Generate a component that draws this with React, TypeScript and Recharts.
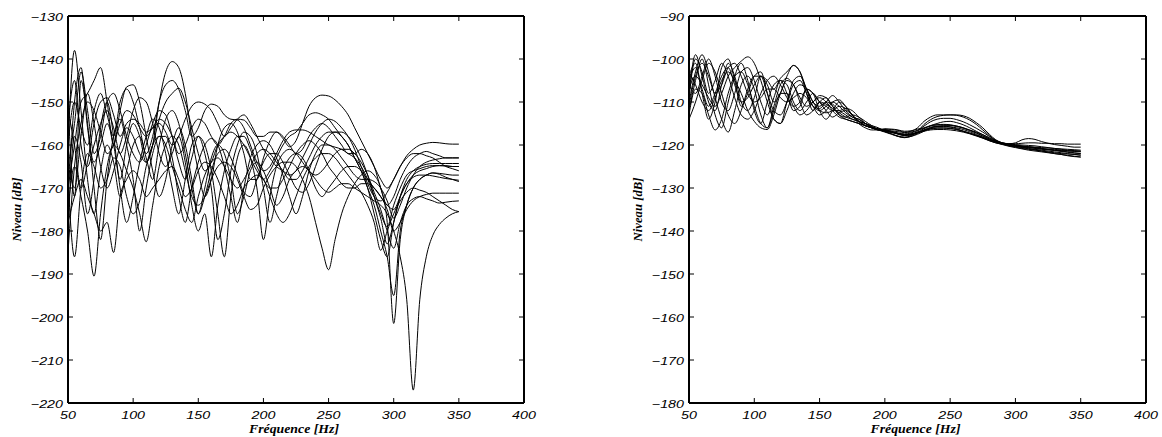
import React from 'react';
import { LineChart, Line, XAxis, YAxis } from 'recharts';

// Frequency grid (Hz)
const FREQ = [
  50, 55, 60, 65, 70, 75, 80, 85, 90, 95,
  100, 105, 110, 115, 120, 125, 130, 135, 140, 145,
  150, 155, 160, 165, 170, 175, 180, 185, 190, 195,
  200, 205, 210, 215, 220, 225, 230, 235, 240, 245,
  250, 255, 260, 265, 270, 275, 280, 285, 290, 295,
  300, 305, 310, 315, 320, 325, 330, 335, 340, 345,
  350,
];

const X_TICKS = [50, 100, 150, 200, 250, 300, 350, 400];
const LEFT_Y_TICKS = [-220, -210, -200, -190, -180, -170, -160, -150, -140, -130];
const RIGHT_Y_TICKS = [-180, -170, -160, -150, -140, -130, -120, -110, -100, -90];

// Left panel levels (dB)
const L1 = [-160, -138, -152, -168, -176, -166, -160, -164, -172, -166,
  -160, -158, -163, -168, -160, -154, -152, -155, -162, -170,
  -176, -170, -163, -160, -162, -168, -176, -172, -166, -164,
  -166, -170, -174, -172, -168, -166, -165, -166, -168, -170,
  -171, -170, -169, -169, -170, -171, -172, -173, -174, -176,
  -180, -186, -196, -217, -196, -186, -181, -178.5, -177, -176,
  -175.5];
const L2 = [-172, -150, -142, -156, -164, -160, -155, -160, -168, -160,
  -155, -158, -164, -160, -150, -143, -140.6, -142, -148, -158,
  -166, -172, -168, -160, -156, -155, -157, -162, -168, -168,
  -163, -159, -157, -158.5, -160.4, -159, -155, -151, -149, -148.4,
  -148.6, -149.5, -151, -153, -156, -159, -162, -165, -168, -170,
  -168, -165, -163, -162, -162, -162.5, -163, -164, -165, -165.5,
  -166];
const L3 = [-152, -160, -170, -164, -155, -150, -149, -153, -158, -155,
  -154, -155, -157, -156, -155, -157, -160, -158, -154, -151,
  -150, -150.5, -152, -155, -158, -156, -154, -153, -155, -158,
  -161, -163, -165, -166, -167, -166, -163, -160, -157, -155,
  -154, -154.5, -156, -158, -161, -165, -169, -172, -173, -171,
  -168, -165, -162.5, -161, -160, -159.6, -159.4, -159.5, -159.7, -159.8,
  -159.8];
const L4 = [-170, -160, -150, -148, -145, -142, -150, -160, -152, -146.5,
  -146, -150, -158, -166, -172, -168, -160, -156, -160, -168,
  -176, -172, -166, -162, -161, -163, -167, -171, -172, -168,
  -164, -162, -162, -164, -167, -170, -171, -169, -165, -161,
  -158, -157, -157, -158, -160, -163, -167, -172, -177, -183,
  -178, -172, -168, -166, -165, -164.5, -164.3, -164.3, -164.3, -164.3,
  -164.3];
const L5 = [-175, -165, -172, -180, -190.5, -176, -165, -160, -162, -166,
  -170, -176, -182.5, -174, -165, -160, -158, -160, -166, -172,
  -174, -172, -168, -165, -164, -165, -168, -172, -175, -174,
  -170, -167, -165, -164, -164, -165, -168, -172, -178, -184,
  -189, -182, -176, -172, -169, -167, -166, -167, -170, -178,
  -201.5, -182, -174, -170, -168, -167, -166.5, -166.6, -166.8, -167,
  -167];
const L6 = [-155, -145, -160, -165, -160, -155, -152, -156, -162, -158,
  -152, -149, -150, -155, -162, -165, -162, -158, -164, -174,
  -180, -176, -186, -174, -166, -161, -158, -158, -161, -165,
  -168, -170, -170, -168, -165, -162, -160, -159, -160, -162,
  -165, -167, -169, -170, -170, -169, -169, -170, -172, -175,
  -180, -178, -175, -173, -172, -171.5, -171.2, -171.2, -171.2, -171.2,
  -171.2];
const L7 = [-165, -155, -143, -152, -162, -158, -150, -148, -152, -158,
  -162, -164, -160, -155, -152, -153, -158, -164, -168, -163,
  -158, -160, -166, -176, -186, -172, -163, -160, -163, -170,
  -182, -172, -165, -162, -161, -162, -164, -166, -167, -166,
  -164, -162, -161, -161, -162, -164, -167, -171, -175, -180,
  -184, -178, -174, -172.5, -172, -172.5, -173, -173.5, -173.3, -173.1,
  -173];
const L8 = [-185, -165, -155, -150, -152, -157, -162, -160, -155, -152,
  -153, -156, -158, -156, -154, -155, -158, -162, -160, -156,
  -154, -155, -158, -160, -158, -155, -154, -154.2, -156, -158,
  -158, -157, -157, -158, -160, -162, -161, -158, -156, -155,
  -156, -158, -160, -162, -162, -161, -162, -165, -170, -174,
  -172, -168, -165, -163, -162, -161.5, -162, -162.5, -163, -163,
  -163];
const L9 = [-178, -172, -168, -172, -176, -180, -178, -185, -172, -168,
  -166, -168, -172, -170, -168, -166, -165, -168, -172, -170,
  -166, -164, -165, -168, -172, -176, -174, -170, -168, -167,
  -168, -172, -176, -178, -176, -172, -168, -165, -163, -162,
  -162, -163, -165, -167, -169, -171, -174, -178, -184.5, -180,
  -176, -173, -171, -170, -170.5, -171, -172, -173, -174, -175,
  -175.5];
const L10 = [-160, -150, -156, -160, -152, -148, -153, -158, -150, -147,
  -150, -156, -162, -158, -150, -146, -145, -147, -152, -158,
  -156, -152, -150.5, -151, -153, -154, -154.2, -156, -160, -164,
  -166, -165, -162, -159, -157, -156.5, -156.5, -157, -158, -159,
  -160, -160.5, -161, -162, -163, -165, -168, -172, -176, -179,
  -174, -170, -167, -166, -165.5, -165, -164.8, -164.8, -164.9, -165,
  -165];
const L11 = [-168, -186, -170, -162, -165, -170, -168, -163, -165, -172,
  -176, -173, -165, -160, -158, -160, -165, -170, -175, -178,
  -172, -167, -164, -163, -165, -168, -170, -168, -165, -162,
  -161, -162, -164, -166, -168, -168, -166, -163, -160, -158,
  -157, -157, -158, -160, -163, -166, -170, -174, -180, -186,
  -195, -180, -174, -170, -168, -167, -166.5, -166.8, -167.5, -168,
  -168.5];
const L12 = [-162, -170, -158, -148, -155, -165, -170, -166, -160, -156,
  -158, -162, -164, -160, -154, -150, -148, -146.8, -150, -156,
  -162, -166, -164, -160, -158, -157, -158, -160, -163, -166,
  -168, -166, -163, -160, -158, -157, -155, -153, -152.5, -153,
  -154, -156, -158, -160, -163, -166, -170, -176, -182, -186,
  -178, -172, -169, -167, -166, -165.5, -165, -164.8, -164.8, -165,
  -165];
const L13 = [-180, -158, -164, -176, -168, -156, -150, -158, -170, -178,
  -172, -164, -158, -154, -156, -162, -170, -176, -168, -160,
  -158, -162, -170, -182, -176, -166, -160, -157, -158, -162,
  -170, -178, -172, -166, -163, -162, -163, -166, -170, -172,
  -170, -168, -166, -165, -165, -166, -168, -170, -172, -174,
  -175, -172, -169, -167.5, -167, -167, -167.2, -167.5, -167.8, -168,
  -168.2];
const L14 = [-150, -172, -145, -155, -170, -182, -168, -158, -154, -160,
  -168, -180, -170, -162, -158, -158, -163, -172, -178, -170,
  -164, -160, -158.5, -160, -165, -172, -178, -170, -163, -160,
  -159, -160, -163, -167, -172, -176, -172, -166, -162, -160,
  -160, -161, -163, -165, -167, -168, -168, -168.5, -170, -173,
  -177, -174, -170, -167, -165, -164, -163.5, -163.2, -163, -163,
  -163];

// Right panel levels (dB)
const R1 = [-108, -99, -104, -110, -112, -106, -101, -104, -110, -112,
  -109, -104, -106, -110, -108, -104, -101.5, -103, -108, -112,
  -110, -109, -111, -113, -114, -114.5, -115, -115.5, -116, -116.5,
  -116.2, -116.4, -116.6, -117, -116.8, -116, -114.5, -113.5, -113, -113,
  -113, -113, -113.2, -113.8, -114.8, -116, -117.5, -118.8, -119.5, -119.7,
  -119.5, -118.8, -118.5, -118.7, -119.2, -119.6, -119.9, -120.1, -120.3, -120.5,
  -120.5];
const R2 = [-112, -105, -100, -106, -113, -116, -110, -104, -101, -105,
  -112, -115, -110, -106, -105, -108, -112, -111, -107, -108,
  -112, -114, -112, -110, -111, -113, -115, -116, -116.5, -116.5,
  -116.9, -117.4, -117.9, -118.2, -117.8, -116.8, -115.2, -114.1, -113.4, -113.1,
  -113, -113.1, -113.5, -114.2, -115.2, -116.5, -117.8, -119, -119.6, -120,
  -120.3, -120.5, -120.5, -120.6, -120.8, -121, -121, -121.2, -121.3, -121.4,
  -121.5];
const R3 = [-104, -101, -108, -114, -110, -102, -100, -105, -111, -108,
  -104, -103, -108, -114, -115, -110, -105, -104, -107, -110,
  -111, -110, -110.5, -112, -113, -114, -114.5, -115.5, -116, -116.3,
  -116.5, -117, -117.3, -117.6, -117.5, -117, -116.2, -115.5, -115, -114.6,
  -114.5, -114.8, -115.3, -116, -116.8, -117.6, -118.4, -119.1, -119.6, -119.9,
  -120, -120.2, -120.4, -120.6, -120.8, -121, -121.2, -121.4, -121.6, -121.8,
  -122];
const R4 = [-110, -103, -99, -103, -109, -114, -117, -112, -106, -104,
  -107, -113, -116, -111, -106, -104.5, -106, -109, -111, -110,
  -108.5, -109, -111, -113, -113.5, -113, -113.5, -114.5, -115.5, -116.3,
  -116.4, -116.3, -116.5, -116.8, -116.7, -116.3, -116, -115.5, -115.3, -115.3,
  -115.4, -115.6, -116, -116.5, -117, -117.6, -118.3, -119, -119.6, -120,
  -120.3, -120.6, -120.9, -121.1, -121.4, -121.7, -122, -122.2, -122.5, -122.7,
  -122.8];
const R5 = [-106, -108, -104, -100, -104, -110, -112, -108, -103, -102,
  -105, -110, -113, -109, -105, -106, -110, -112, -110, -108,
  -110, -112, -113.5, -112.5, -112, -113, -114.5, -115, -115.5, -116,
  -116.8, -117.4, -118, -118.3, -118, -117.3, -116.5, -115.9, -115.6, -115.6,
  -115.8, -116.2, -116.8, -117.3, -117.8, -118.3, -118.8, -119.2, -119.5, -119.7,
  -119.7, -119.6, -119.5, -119.5, -119.6, -119.6, -119.7, -119.7, -119.8, -119.8,
  -119.8];
const R6 = [-113, -107, -108, -113, -116.5, -114, -108, -104, -103, -106,
  -111, -115, -116, -112, -108, -108, -111, -113, -112, -110,
  -109, -110, -112, -113.5, -114, -114.5, -115, -115.5, -116, -116.5,
  -116.8, -117, -117.5, -117.8, -117.7, -117.2, -116.5, -116, -115.7, -115.7,
  -115.8, -116, -116.4, -116.9, -117.5, -118.2, -118.9, -119.4, -119.8, -120.1,
  -120.3, -120.5, -120.8, -121, -121.2, -121.4, -121.6, -121.8, -122, -122.2,
  -122.4];
const R7 = [-107, -104, -106, -109, -111, -108, -104, -102, -100.5, -99.5,
  -101, -105, -110, -114, -115, -112, -108, -106, -107, -110,
  -112, -112.5, -112, -111, -111.5, -113, -114.5, -115.5, -116, -116.5,
  -116.6, -116.7, -116.9, -117.1, -117, -116.6, -116.1, -115.6, -115.3, -115.2,
  -115.3, -115.6, -116, -116.6, -117.2, -117.9, -118.6, -119.2, -119.6, -119.9,
  -120.1, -120.3, -120.5, -120.7, -120.9, -121.1, -121.3, -121.5, -121.7, -121.9,
  -122];
const R8 = [-105, -102, -107, -111, -108, -104, -102, -106, -110, -109,
  -106, -104, -105, -107, -104.5, -103, -101.5, -103, -107, -111,
  -111.5, -110, -108.5, -110, -112, -113.5, -114, -115, -115.8, -116.3,
  -116.6, -116.8, -117.2, -117.4, -117.2, -116.6, -115.6, -114.6, -114, -113.8,
  -113.8, -114.1, -114.6, -115.3, -116.1, -117, -118, -118.9, -119.5, -119.8,
  -119.9, -120, -120.1, -120.2, -120.4, -120.6, -120.8, -121, -121.2, -121.3,
  -121.4];
const R9 = [-114, -110, -105, -101, -103, -108, -113, -115, -112, -107,
  -104, -104, -108, -112, -113, -110, -106, -105, -108, -111,
  -113, -112, -110, -109.5, -111, -113, -114.5, -115.5, -116, -116.2,
  -116.5, -116.9, -117.3, -117.6, -117.4, -117, -116.6, -116.2, -116, -116,
  -116.1, -116.4, -116.8, -117.3, -117.8, -118.4, -119, -119.5, -119.8, -120.2,
  -120.5, -120.8, -121, -121.2, -121.4, -121.6, -121.8, -122, -122.1, -122.2,
  -122.3];
const R10 = [-109, -100, -103, -108, -105, -101, -104, -109, -113, -114,
  -112, -108, -105, -104, -106, -109, -111, -110, -107, -108,
  -110, -111, -112, -112, -111.5, -112, -113.5, -115, -116, -116.5,
  -117, -117.5, -118, -118.2, -118, -117.5, -116.8, -116.1, -115.7, -115.5,
  -115.5, -115.7, -116.1, -116.6, -117.2, -117.9, -118.6, -119.2, -119.7, -120,
  -120.2, -120.4, -120.6, -120.8, -121, -121.1, -121.2, -121.3, -121.4, -121.5,
  -121.6];
const R11 = [-103, -106, -110, -112, -109, -105, -103, -105, -108, -112,
  -114.5, -116, -116.4, -113, -108, -105, -106, -110, -113, -112,
  -110, -110.5, -111.5, -112.5, -113.5, -114, -114.5, -115, -115.8, -116.4,
  -116.6, -117, -117.4, -117.7, -117.5, -117.1, -116.6, -116.3, -116.1, -116.1,
  -116.2, -116.4, -116.8, -117.2, -117.7, -118.2, -118.8, -119.3, -119.7, -120,
  -120.2, -120.3, -120.4, -120.5, -120.6, -120.7, -120.8, -120.9, -121, -121.1,
  -121.2];
const R12 = [-111, -104, -101, -104, -108, -106, -102, -101, -104, -108,
  -110, -109, -107, -107, -109, -110, -109, -108, -109, -111,
  -112, -111, -110, -111, -112.5, -113.5, -114, -115, -115.8, -116.4,
  -116.8, -117.1, -117.4, -117.8, -117.6, -117.2, -116.8, -116.5, -116.4, -116.4,
  -116.5, -116.7, -117, -117.4, -117.9, -118.4, -119, -119.5, -119.9, -120.3,
  -120.6, -120.9, -121.2, -121.4, -121.6, -121.8, -122, -122.2, -122.4, -122.6,
  -122.8];

const LEFT_SERIES = [L1, L2, L3, L4, L5, L6, L7, L8, L9, L10, L11, L12, L13, L14];
const RIGHT_SERIES = [R1, R2, R3, R4, R5, R6, R7, R8, R9, R10, R11, R12];

const X_LABEL = 'Fréquence [Hz]';
const Y_LABEL = 'Niveau [dB]';

function buildRows(series: number[][]) {
  return FREQ.map((f, i) => {
    const row: Record<string, number> = { f };
    series.forEach((s, k) => {
      row['s' + k] = s[i];
    });
    return row;
  });
}

const fmt = (v: number) => (v < 0 ? '\u2212' + Math.abs(v) : String(v));

const TICK_FONT = "'Liberation Sans', Arial, Helvetica, sans-serif";
const LABEL_FONT = "'Liberation Serif', 'Times New Roman', serif";

const LeftTick = (props: any) => {
  const { x, y, payload } = props;
  return (
    <g>
      <line x1={x} x2={x + 5} y1={y} y2={y} stroke="#000" strokeWidth={1} />
      <text
        transform={`translate(${x - 5},${y + 4.5}) scale(1.3,1)`}
        textAnchor="end"
        fontFamily={TICK_FONT}
        fontStyle="italic"
        fontSize={11}
        fill="#000"
      >
        {fmt(payload.value)}
      </text>
    </g>
  );
};

const RightTick = (props: any) => {
  const { x, y } = props;
  return <line x1={x} x2={x - 5} y1={y} y2={y} stroke="#000" strokeWidth={1} />;
};

const BottomTick = (props: any) => {
  const { x, y, payload } = props;
  return (
    <g>
      <line x1={x} x2={x} y1={y} y2={y - 5} stroke="#000" strokeWidth={1} />
      <text
        transform={`translate(${x},${y + 15.7}) scale(1.3,1)`}
        textAnchor="middle"
        fontFamily={TICK_FONT}
        fontStyle="italic"
        fontSize={11}
        fill="#000"
      >
        {fmt(payload.value)}
      </text>
    </g>
  );
};

const TopTick = (props: any) => {
  const { x, y } = props;
  return <line x1={x} x2={x} y1={y} y2={y + 5} stroke="#000" strokeWidth={1} />;
};

const XLabel = (props: any) => {
  const vb = props.viewBox || {};
  const cx = vb.x + vb.width / 2 - 2;
  const by = vb.y + 30;
  return (
    <text
      x={cx}
      y={by}
      textAnchor="middle"
      fontFamily={LABEL_FONT}
      fontStyle="italic"
      fontWeight="bold"
      fontSize={13}
      textLength={90}
      lengthAdjust="spacingAndGlyphs"
      fill="#000"
    >
      {X_LABEL}
    </text>
  );
};

const YLabel = (props: any) => {
  const vb = props.viewBox || {};
  const bx = vb.x + vb.width - 47;
  const cy = vb.y + vb.height / 2;
  return (
    <text
      x={bx}
      y={cy}
      transform={`rotate(-90, ${bx}, ${cy})`}
      textAnchor="middle"
      fontFamily={LABEL_FONT}
      fontStyle="italic"
      fontWeight="bold"
      fontSize={13}
      textLength={64}
      lengthAdjust="spacingAndGlyphs"
      fill="#000"
    >
      {Y_LABEL}
    </text>
  );
};

const AXIS_LINE = { stroke: '#000', strokeWidth: 2 };

function Panel(props: {
  series: number[][];
  yTicks: number[];
  marginLeft: number;
  marginRight: number;
}) {
  const { series, yTicks, marginLeft, marginRight } = props;
  const rows = buildRows(series);
  const yDomain: [number, number] = [yTicks[0], yTicks[yTicks.length - 1]];
  return (
    <LineChart
      width={581}
      height={437}
      data={rows}
      margin={{ top: 15, right: marginRight, bottom: 4, left: marginLeft }}
    >
      <XAxis
        xAxisId="b"
        dataKey="f"
        type="number"
        domain={[50, 400]}
        ticks={X_TICKS}
        interval={0}
        allowDataOverflow
        height={30}
        tickSize={0}
        tickMargin={0}
        tickLine={false}
        axisLine={AXIS_LINE}
        tick={<BottomTick />}
        label={<XLabel />}
      />
      <XAxis
        xAxisId="t"
        orientation="top"
        dataKey="f"
        type="number"
        domain={[50, 400]}
        ticks={X_TICKS}
        interval={0}
        allowDataOverflow
        height={1}
        tickSize={0}
        tickMargin={0}
        tickLine={false}
        axisLine={AXIS_LINE}
        tick={<TopTick />}
      />
      <YAxis
        yAxisId="l"
        type="number"
        domain={yDomain}
        ticks={yTicks}
        interval={0}
        allowDataOverflow
        width={60}
        tickSize={0}
        tickMargin={0}
        tickLine={false}
        axisLine={AXIS_LINE}
        tick={<LeftTick />}
        label={<YLabel />}
      />
      <YAxis
        yAxisId="r"
        orientation="right"
        type="number"
        domain={yDomain}
        ticks={yTicks}
        interval={0}
        allowDataOverflow
        width={1}
        tickSize={0}
        tickMargin={0}
        tickLine={false}
        axisLine={AXIS_LINE}
        tick={<RightTick />}
      />
      {series.map((_, k) => (
        <Line
          key={k}
          xAxisId="b"
          yAxisId="l"
          dataKey={'s' + k}
          type="monotone"
          stroke="#000"
          strokeWidth={1}
          dot={false}
          activeDot={false}
          isAnimationActive={false}
        />
      ))}
      <Line
        xAxisId="t"
        yAxisId="r"
        dataKey="s0"
        type="monotone"
        stroke="none"
        dot={false}
        activeDot={false}
        legendType="none"
        isAnimationActive={false}
      />
    </LineChart>
  );
}

export default function App() {
  return (
    <div style={{ position: 'absolute', left: 0, top: 0, width: 1162, height: 437, background: '#fff' }}>
      <div style={{ position: 'absolute', left: 0, top: 0 }}>
        <Panel series={LEFT_SERIES} yTicks={LEFT_Y_TICKS} marginLeft={8} marginRight={56} />
      </div>
      <div style={{ position: 'absolute', left: 581, top: 0 }}>
        <Panel series={RIGHT_SERIES} yTicks={RIGHT_Y_TICKS} marginLeft={48} marginRight={15} />
      </div>
    </div>
  );
}
